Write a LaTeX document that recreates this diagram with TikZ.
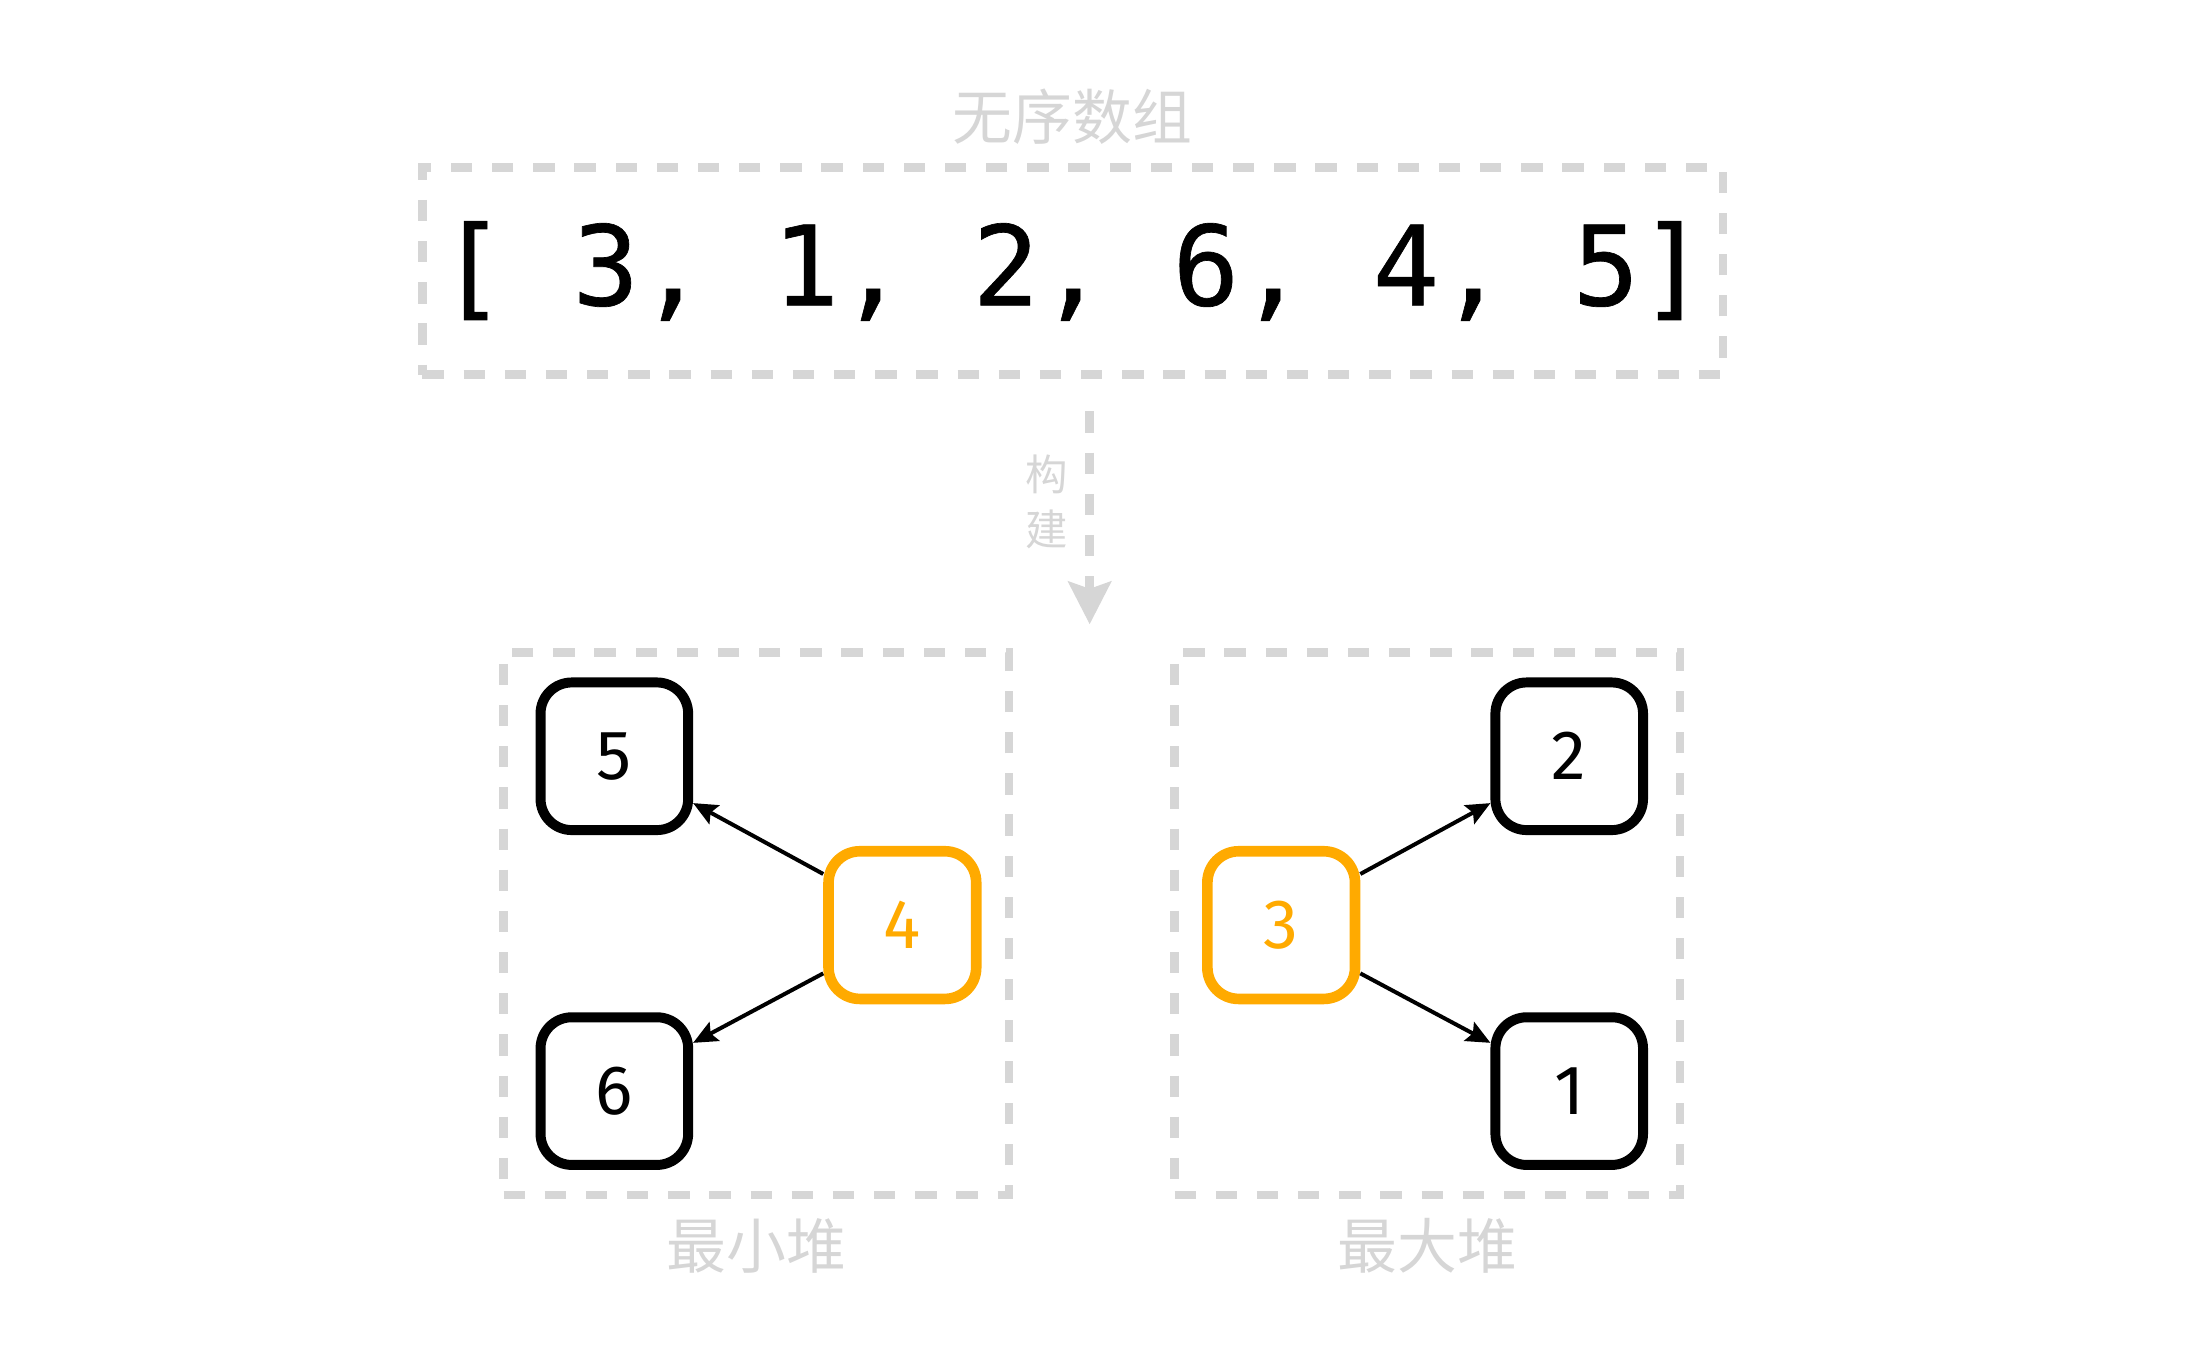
\documentclass[tikz,border=0pt]{standalone}
\usepackage{fontspec}
\setmainfont{Fira Sans}
\setmonofont[FakeBold=0.6]{DejaVu Sans Mono}
\newfontfamily\cjk{Noto Sans CJK SC}
\usetikzlibrary{arrows.meta}
\definecolor{lgray}{HTML}{D6D6D6}
\definecolor{orng}{HTML}{FFAA00}
\begin{document}
\begin{tikzpicture}[x=0.01cm,y=-0.01cm,
  dbox/.style={draw=lgray, line width=0.06cm, dash pattern=on 0.15cm off 0.14cm, inner sep=0pt},
  glabel/.style={text=lgray, font=\cjk\fontsize{12}{14}\selectfont, inner sep=0pt},
  numbox/.style={draw=black, line width=0.07cm, rounded corners=0.22cm, minimum width=1.04cm, minimum height=1.04cm, inner sep=0pt, font=\fontsize{14}{16}\selectfont},
  hotbox/.style={numbox, draw=orng, text=orng, line width=0.075cm},
  link/.style={draw=black, line width=0.028cm, -{Stealth[length=0.17cm, width=0.15cm, inset=0.03cm]}},
  build/.style={draw=lgray, line width=0.06cm, dash pattern=on 0.15cm off 0.14cm, -{Stealth[length=0.3cm, width=0.3cm, inset=0.05cm]}}
]
\useasboundingbox (0,0) rectangle (1552,953);
% top array
\node[dbox, minimum width=9.16cm, minimum height=1.46cm] (arr) at (756,191)
  {\ttfamily\fontsize{22.2}{26}\selectfont [ 3, 1, 2, 6, 4, 5]};
\node[glabel] (title) at (756,82) {无序数组};
% build arrow
\coordinate (b1) at (768,290);
\coordinate (b2) at (768,440);
\draw[build] (b1) -- (b2);
\node[text=lgray, font=\cjk\fontsize{8.5}{11}\selectfont, align=center, inner sep=0pt] (buildlbl) at (738,354) {构\\建};
% heaps
\node[dbox, minimum width=3.56cm, minimum height=3.82cm] (minh) at (533,651) {};
\node[dbox, minimum width=3.56cm, minimum height=3.82cm] (maxh) at (1006,651) {};
\node[glabel] (minlbl) at (533,878) {最小堆};
\node[glabel] (maxlbl) at (1006,878) {最大堆};
% min heap nodes
\node[numbox] (n5) at (433,533) {5};
\node[numbox] (n6) at (433,769) {6};
\node[hotbox] (n4) at (636,652) {4};
% max heap nodes
\node[numbox] (n2) at (1106,533) {2};
\node[numbox] (n1) at (1106,769) {1};
\node[hotbox] (n3) at (903,652) {3};
% links
\draw[link] ([yshift=0.36cm]n4.west) -- ([yshift=-0.33cm]n5.east);
\draw[link] ([yshift=-0.34cm]n4.west) -- ([yshift=0.34cm]n6.east);
\draw[link] ([yshift=0.36cm]n3.east) -- ([yshift=-0.33cm]n2.west);
\draw[link] ([yshift=-0.34cm]n3.east) -- ([yshift=0.34cm]n1.west);
\end{tikzpicture}
\end{document}
